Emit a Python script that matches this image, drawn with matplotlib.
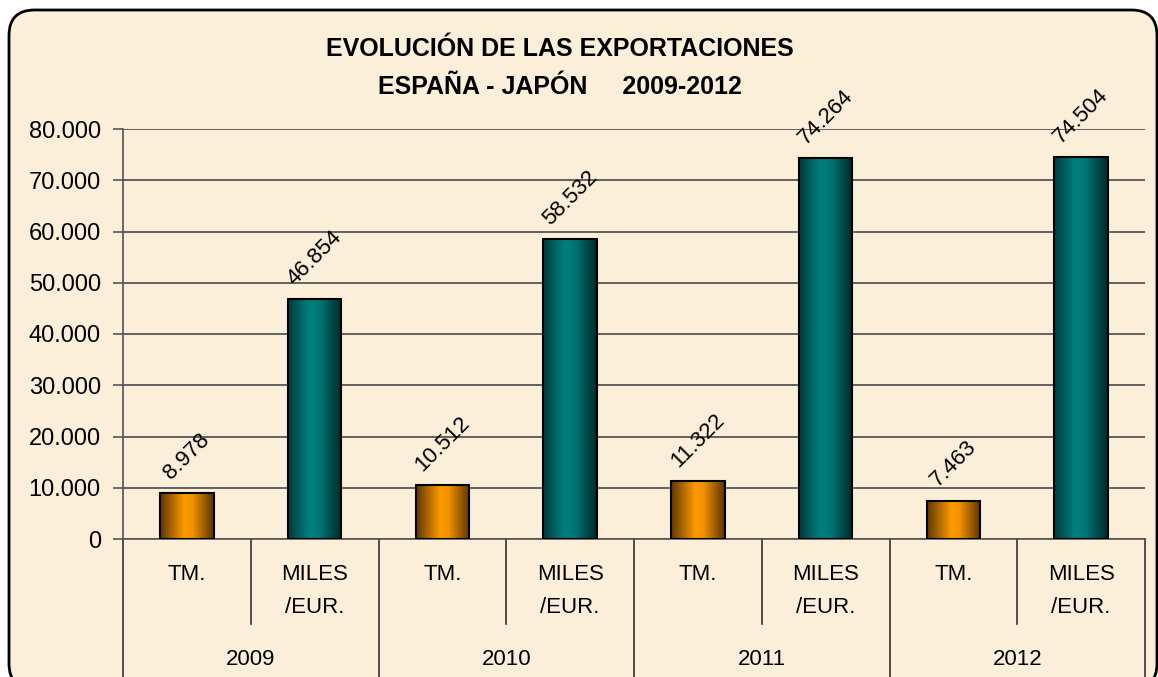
import matplotlib.pyplot as plt
import matplotlib.transforms as mtransforms
from matplotlib.colors import LinearSegmentedColormap
from matplotlib.patches import FancyBboxPatch
import numpy as np

# ----------------------------
# Data
# ----------------------------
years = ["2009", "2010", "2011", "2012"]
units = ["TM.", "MILES\n/EUR."]
tm = [8978, 10512, 11322, 7463]
miles_eur = [46854, 58532, 74264, 74504]
yticks = [0, 10000, 20000, 30000, 40000, 50000, 60000, 70000, 80000]

title = "EVOLUCIÓN DE LAS EXPORTACIONES\nESPAÑA - JAPÓN     2009-2012"

# ----------------------------
# Styling
# ----------------------------
plt.rcParams.update({"font.family": ["Liberation Sans", "DejaVu Sans"], "font.size": 16})

W, H = 1158, 677
fig = plt.figure(figsize=(W / 100, H / 100), dpi=100, facecolor="white")

# rounded parchment frame (bottom edge falls just outside the image)
frame = FancyBboxPatch(
    (9 / W, -12 / H), (1157 - 9) / W, (H - 10 + 12) / H,
    boxstyle="round,pad=0,rounding_size=0.022",
    transform=fig.transFigure, facecolor="#FBEFD9", edgecolor="black",
    linewidth=2, mutation_aspect=W / H, zorder=-1,
)
fig.patches.append(frame)

fig.text(560 / W, 1 - 68 / H, title, ha="center", va="center", fontsize=18,
         fontweight="bold", linespacing=1.75)

ax = fig.add_axes([123 / W, (H - 539) / H, (1145 - 123) / W, (539 - 129) / H])
ax.set_facecolor("none")

# ----------------------------
# Bars
# ----------------------------
n = len(years)
pos_tm = np.arange(n) * 2
pos_me = np.arange(n) * 2 + 1
bw = 0.42

orange_cmap = LinearSegmentedColormap.from_list(
    "orange", [(0, "#5E3600"), (0.45, "#FF9A00"), (0.6, "#F29200"), (1, "#5A3400")])
teal_cmap = LinearSegmentedColormap.from_list(
    "teal", [(0, "#003A3A"), (0.4, "#008080"), (0.6, "#007373"), (1, "#002828")])

bars_tm = ax.bar(pos_tm, tm, width=bw, facecolor="none", edgecolor="black", linewidth=1.5, zorder=4)
bars_me = ax.bar(pos_me, miles_eur, width=bw, facecolor="none", edgecolor="black", linewidth=1.5, zorder=4)

grad = np.linspace(0, 1, 256).reshape(1, -1)
for bars, cmap in [(bars_tm, orange_cmap), (bars_me, teal_cmap)]:
    for b in bars:
        x0, w, h = b.get_x(), b.get_width(), b.get_height()
        im = ax.imshow(grad, cmap=cmap, extent=[x0, x0 + w, 0, h], aspect="auto",
                       zorder=3, interpolation="bicubic")
        im.set_clip_path(b)

for bars, vals in [(bars_tm, tm), (bars_me, miles_eur)]:
    for b, v in zip(bars, vals):
        ax.annotate(f"{v:,}".replace(",", "."), (b.get_x() + b.get_width() / 2, v),
                    xytext=(0, 7), textcoords="offset points", rotation=45,
                    ha="center", va="bottom", fontsize=16, zorder=5)

# ----------------------------
# Axes
# ----------------------------
ax.set_xlim(-0.5, 2 * n - 0.5)
ax.set_ylim(0, 80000)
ax.set_yticks(yticks)
ax.set_yticklabels([f"{t:,}".replace(",", ".") for t in yticks])
ax.yaxis.grid(True, color="#4a4a4a", linewidth=1.2)
ax.set_axisbelow(True)
ax.tick_params(axis="y", length=7, width=1.2, color="#555555", pad=9, labelsize=17)
ax.set_xticks([])
for s in ["top", "right"]:
    ax.spines[s].set_visible(False)
ax.spines["left"].set_color("#555555")
ax.spines["bottom"].set_color("#555555")
ax.spines["left"].set_linewidth(1.2)
ax.spines["bottom"].set_linewidth(1.2)

# multi-level category axis
trans = mtransforms.blended_transform_factory(ax.transData, ax.transAxes)
for i in range(n):
    ax.plot([2 * i + 0.5, 2 * i + 0.5], [0, -0.207], transform=trans, color="#333333",
            linewidth=1.2, clip_on=False)
for i in range(n + 1):
    ax.plot([2 * i - 0.5, 2 * i - 0.5], [0, -0.4], transform=trans, color="#333333",
            linewidth=1.2, clip_on=False)
for i, yr in enumerate(years):
    ax.text(2 * i, -0.062, units[0], transform=trans, ha="center", va="top", fontsize=16)
    ax.text(2 * i + 1, -0.062, units[1], transform=trans, ha="center", va="top",
            fontsize=16, linespacing=1.7)
    ax.text(2 * i + 0.5, -0.293, yr, transform=trans, ha="center", va="center", fontsize=16)

fig.savefig("out.png", dpi=100, facecolor="white")
